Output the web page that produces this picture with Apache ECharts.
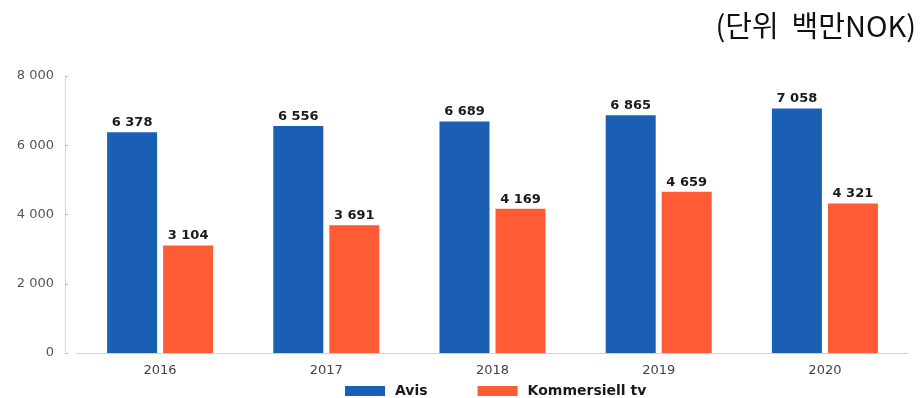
<!DOCTYPE html>
<html>
<head>
<meta charset="utf-8">
<script src="https://cdn.jsdelivr.net/npm/echarts@6/dist/echarts.min.js"></script>
<style>
  html, body { margin: 0; padding: 0; background: #fff; }
  #chart { width: 921px; height: 398px; }
</style>
</head>
<body>
<div id="chart"></div>
<script>
// Annual revenue, million NOK
const years = ['2016', '2017', '2018', '2019', '2020'];
const avis = [6378, 6556, 6689, 6865, 7058];
const kommersiellTv = [3104, 3691, 4169, 4659, 4321];
const yTicks = [0, 2000, 4000, 6000, 8000];

// "6 378" style: space as thousands separator
function fmt(v) {
  return String(v).replace(/\B(?=(\d{3})+(?!\d))/g, ' ');
}

const FONT = '"DejaVu Sans", Verdana, sans-serif';

const chart = echarts.init(document.getElementById('chart'), null, { renderer: 'canvas' });

const labelStyle = {
  show: true,
  position: 'top',
  distance: 3,
  fontFamily: FONT,
  fontSize: 13,
  fontWeight: 'bold',
  color: '#1a1a1a',
  formatter: p => fmt(p.value)
};

chart.setOption({
  animation: false,
  backgroundColor: '#fff',
  title: {
    text: '(단위  백만NOK)',
    right: 0,
    top: 6,
    textStyle: {
      fontFamily: '"Noto Sans CJK KR", sans-serif',
      fontSize: 29,
      fontWeight: 'normal',
      color: '#111'
    }
  },
  legend: {
    data: ['Avis', 'Kommersiell tv'],
    left: 345,
    top: 384,
    padding: 0,
    itemWidth: 40,
    itemHeight: 10,
    itemGap: 50,
    icon: 'rect',
    textStyle: {
      fontFamily: FONT,
      fontSize: 14,
      lineHeight: 14,
      fontWeight: 'bold',
      color: '#1a1a1a',
      padding: [0, 0, 0, 5]
    }
  },
  grid: { left: 77, right: 13, top: 76, bottom: 45 },
  xAxis: {
    type: 'category',
    data: years,
    axisLine: { lineStyle: { color: '#d0d0d0', width: 1 } },
    axisTick: { show: false },
    axisLabel: {
      margin: 11,
      fontFamily: FONT,
      fontSize: 13,
      color: '#444'
    }
  },
  yAxis: {
    type: 'value',
    min: yTicks[0],
    max: yTicks[yTicks.length - 1],
    interval: yTicks[1] - yTicks[0],
    offset: 12,
    axisLine: { show: true, lineStyle: { color: '#d8d8d8', width: 1 } },
    axisTick: { show: true, inside: true, length: 3, lineStyle: { color: '#bbb' } },
    splitLine: { show: false },
    axisLabel: {
      margin: 11,
      fontFamily: FONT,
      fontSize: 13,
      color: '#555',
      formatter: v => fmt(v)
    }
  },
  series: [
    {
      name: 'Avis',
      type: 'bar',
      data: avis,
      barWidth: 50,
      barGap: '12%',
      itemStyle: { color: '#1a5fb4' },
      label: labelStyle
    },
    {
      name: 'Kommersiell tv',
      type: 'bar',
      data: kommersiellTv,
      barWidth: 50,
      itemStyle: { color: '#ff5b35' },
      label: labelStyle
    }
  ]
});
</script>
</body>
</html>
